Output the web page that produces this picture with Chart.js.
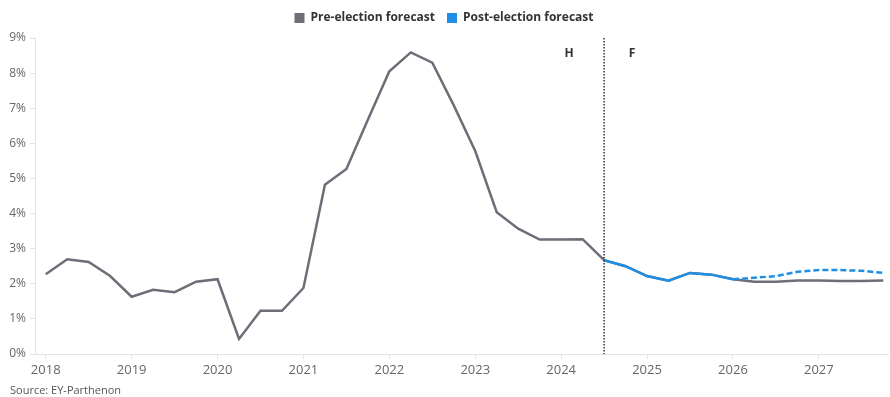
<!DOCTYPE html>
<html>
<head>
<meta charset="utf-8">
<script src="https://cdn.jsdelivr.net/npm/chart.js@4.4.1/dist/chart.umd.min.js"></script>
<style>
    html, body { margin: 0; padding: 0; background: #fff; }
    #wrap { position: relative; width: 890px; height: 397px; }
</style>
</head>
<body>
<div id="wrap"><canvas id="inflationChart"></canvas></div>
<script>
const quarters = [
    '2018 Q1', '2018 Q2', '2018 Q3', '2018 Q4',
    '2019 Q1', '2019 Q2', '2019 Q3', '2019 Q4',
    '2020 Q1', '2020 Q2', '2020 Q3', '2020 Q4',
    '2021 Q1', '2021 Q2', '2021 Q3', '2021 Q4',
    '2022 Q1', '2022 Q2', '2022 Q3', '2022 Q4',
    '2023 Q1', '2023 Q2', '2023 Q3', '2023 Q4',
    '2024 Q1', '2024 Q2', '2024 Q3', '2024 Q4',
    '2025 Q1', '2025 Q2', '2025 Q3', '2025 Q4',
    '2026 Q1', '2026 Q2', '2026 Q3', '2026 Q4',
    '2027 Q1', '2027 Q2', '2027 Q3', '2027 Q4'
];

const preElection = [
    2.27, 2.70, 2.62, 2.22,
    1.63, 1.83, 1.76, 2.06,
    2.13, 0.43, 1.23, 1.23,
    1.88, 4.82, 5.27, 6.67,
    8.05, 8.59, 8.30, 7.08,
    5.78, 4.04, 3.57, 3.26,
    3.26, 3.27, 2.67, 2.50,
    2.22, 2.09, 2.31, 2.26,
    2.13, 2.06, 2.06, 2.09,
    2.09, 2.08, 2.08, 2.09
];

const postElection = [
    null, null, null, null,
    null, null, null, null,
    null, null, null, null,
    null, null, null, null,
    null, null, null, null,
    null, null, null, null,
    null, null, 2.67, 2.50,
    2.22, 2.09, 2.31, 2.26,
    2.13, 2.17, 2.22, 2.34,
    2.39, 2.39, 2.37, 2.31
];

const yearTicks = [2018, 2019, 2020, 2021, 2022, 2023, 2024, 2025, 2026, 2027];
const splitQuarter = '2024 Q3';   // history | forecast
const dashFrom = '2026 Q1';       // post-election line turns dashed

// '2018 Q1' -> 2018.0, '2018 Q2' -> 2018.25 ...
function quarterToX(q) {
    const parts = q.split(' Q');
    return Number(parts[0]) + (Number(parts[1]) - 1) / 4;
}

function toPoints(values) {
    return values.map(function (v, i) {
        return { x: quarterToX(quarters[i]), y: v };
    });
}

const GREY = '#6e6d78';
const BLUE = '#1f8fe5';
const FONT = "'Open Sans', sans-serif";
const dashIndex = quarters.indexOf(dashFrom);

// keep the plot top at a fixed distance below the legend
const legendHeightPlugin = {
    id: 'legendHeight',
    beforeLayout: function (chart) {
        const legend = chart.legend;
        if (legend && !legend._fixedFit) {
            const fit = legend.fit;
            legend.fit = function () {
                fit.call(this);
                this.height = 38;
            };
            legend._fixedFit = true;
        }
    }
};

const splitPlugin = {
    id: 'splitLine',
    afterDatasetsDraw: function (chart) {
        const ctx = chart.ctx;
        const area = chart.chartArea;
        const x = chart.scales.x.getPixelForValue(quarterToX(splitQuarter));
        ctx.save();
        ctx.strokeStyle = '#333';
        ctx.lineWidth = 1.5;
        ctx.setLineDash([1.5, 1.5]);
        ctx.beginPath();
        ctx.moveTo(x, area.top);
        ctx.lineTo(x, area.bottom);
        ctx.stroke();
        ctx.setLineDash([]);
        ctx.fillStyle = '#333';
        ctx.font = 'bold 12px ' + FONT;
        ctx.textAlign = 'center';
        ctx.textBaseline = 'middle';
        ctx.fillText('H', x - 35, area.top + 16);
        ctx.fillText('F', x + 28, area.top + 16);
        // source note
        ctx.textAlign = 'left';
        ctx.textBaseline = 'middle';
        ctx.font = '11px ' + FONT;
        ctx.fillStyle = '#555';
        ctx.fillText('Source: EY-Parthenon', 10, 391);
        ctx.restore();
    }
};

new Chart(document.getElementById('inflationChart'), {
    type: 'line',
    data: {
        datasets: [{
            label: 'Pre-election forecast',
            data: toPoints(preElection),
            borderColor: GREY,
            backgroundColor: GREY,
            borderWidth: 2.5,
            pointRadius: 0,
            tension: 0,
            order: 2
        }, {
            label: 'Post-election forecast',
            data: toPoints(postElection),
            borderColor: BLUE,
            backgroundColor: BLUE,
            borderWidth: 2.5,
            pointRadius: 0,
            tension: 0,
            spanGaps: false,
            order: 1,
            segment: {
                borderDash: function (ctx) {
                    return ctx.p0DataIndex >= dashIndex ? [6, 3] : undefined;
                }
            }
        }]
    },
    options: {
        responsive: true,
        maintainAspectRatio: false,
        animation: false,
        layout: {
            padding: { left: 0, right: 2, top: 0, bottom: 0 }
        },
        plugins: {
            legend: {
                position: 'top',
                labels: {
                    boxWidth: 10,
                    boxHeight: 10,
                    padding: 12,
                    color: '#333',
                    font: { family: FONT, size: 12, weight: 'bold' },
                    sort: function (a, b) { return a.datasetIndex - b.datasetIndex; },
                    generateLabels: function (chart) {
                        return Chart.defaults.plugins.legend.labels.generateLabels(chart)
                            .map(function (l) { return Object.assign(l, { lineWidth: 0 }); });
                    }
                }
            },
            tooltip: { enabled: false }
        },
        scales: {
            x: {
                type: 'linear',
                min: 2017.875,
                max: 2027.805,
                afterBuildTicks: function (scale) {
                    scale.ticks = yearTicks.map(function (y) { return { value: y }; });
                },
                afterFit: function (scale) {
                    scale.height = 43;
                },
                ticks: {
                    color: '#666',
                    padding: 3,
                    maxRotation: 0,
                    autoSkip: false,
                    font: { family: FONT, size: 13 },
                    callback: function (v) { return String(v); }
                },
                grid: {
                    drawOnChartArea: false,
                    drawTicks: true,
                    tickLength: 5,
                    color: '#e4e4e4'
                },
                border: { color: '#e4e4e4' }
            },
            y: {
                min: 0,
                max: 9,
                afterFit: function (scale) {
                    scale.width = 35;
                },
                ticks: {
                    stepSize: 1,
                    color: '#666',
                    padding: 4,
                    font: { family: FONT, size: 12 },
                    callback: function (v) { return v + '%'; }
                },
                grid: {
                    drawOnChartArea: false,
                    drawTicks: true,
                    tickLength: 5,
                    color: '#e4e4e4'
                },
                border: { color: '#e4e4e4' }
            }
        }
    },
    plugins: [legendHeightPlugin, splitPlugin]
});
</script>
</body>
</html>
